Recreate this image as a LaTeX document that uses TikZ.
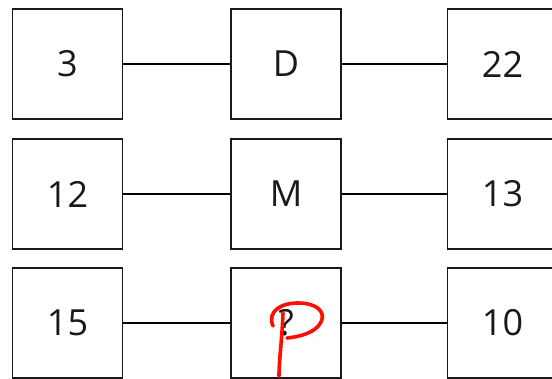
\documentclass[tikz,border=0pt]{standalone}
\usepackage{fontspec}
\setmainfont{Open Sans}
\begin{document}
\begin{tikzpicture}[x=1pt,y=-1pt,line width=1.6pt,
  box/.style={draw=black!90,minimum width=110pt,minimum height=110pt,inner sep=0pt,
    font=\fontsize{36}{40}\selectfont,text=black!90}]
\useasboundingbox (0,0) rectangle (552,379);
\clip (0,0) rectangle (552,379);
\node[box] (a1) at (67.5,64) {3};
\node[box] (b1) at (286,64) {D};
\node[box] (c1) at (502.5,64) {22};
\node[box] (a2) at (67.5,194) {12};
\node[box] (b2) at (286,194) {M};
\node[box] (c2) at (502.5,194) {13};
\node[box] (a3) at (67.5,323) {15};
\node[box] (b3) at (286,323) {?};
\node[box] (c3) at (502.5,323) {10};
\draw (a1) -- (b1);
\draw (b1) -- (c1);
\draw (a2) -- (b2);
\draw (b2) -- (c2);
\draw (a3) -- (b3);
\draw (b3) -- (c3);
% red handwritten answer
\draw[red!90!orange,line width=3.6pt,line cap=round,line join=round]
  (283,313) .. controls (282,340) and (279,360) .. (279,376);
\draw[red!90!orange,line width=3.6pt,line cap=round,line join=round]
  (273,326) .. controls (267,312) and (280,303) .. (298,303)
  .. controls (317,303) and (326,312) .. (321,322)
  .. controls (316,333) and (298,337) .. (287,338);
\end{tikzpicture}
\end{document}
